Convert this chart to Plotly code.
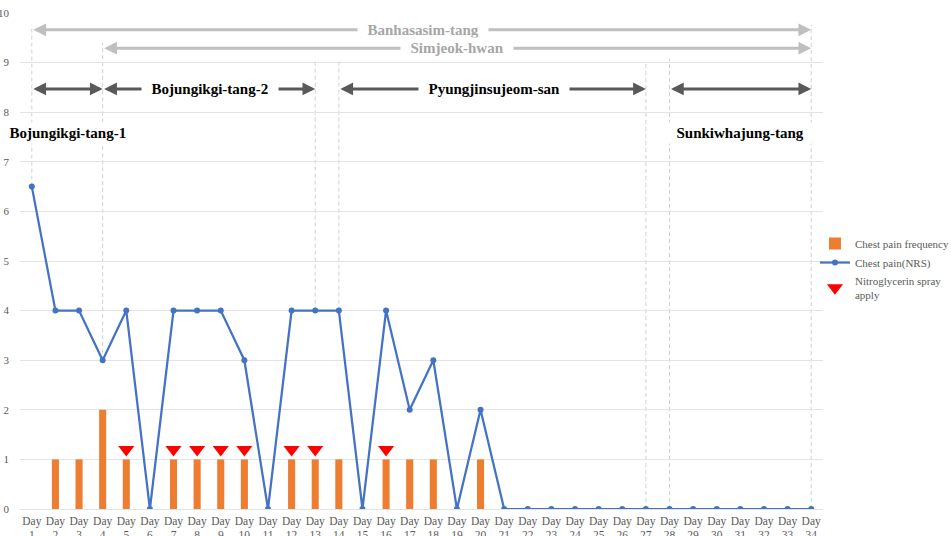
import plotly.graph_objects as go

# ---------------- data ----------------
days = [1, 2, 3, 4, 5, 6, 7, 8, 9, 10, 11, 12, 13, 14, 15, 16, 17,
        18, 19, 20, 21, 22, 23, 24, 25, 26, 27, 28, 29, 30, 31, 32, 33, 34]
day_labels = ["Day 1", "Day 2", "Day 3", "Day 4", "Day 5", "Day 6", "Day 7", "Day 8",
              "Day 9", "Day 10", "Day 11", "Day 12", "Day 13", "Day 14", "Day 15",
              "Day 16", "Day 17", "Day 18", "Day 19", "Day 20", "Day 21", "Day 22",
              "Day 23", "Day 24", "Day 25", "Day 26", "Day 27", "Day 28", "Day 29",
              "Day 30", "Day 31", "Day 32", "Day 33", "Day 34"]
chest_pain_nrs = [6.5, 4, 4, 3, 4, 0, 4, 4, 4, 3, 0, 4, 4, 4, 0, 4, 2, 3, 0, 2,
                  0, 0, 0, 0, 0, 0, 0, 0, 0, 0, 0, 0, 0, 0]
chest_pain_freq = [0, 1, 1, 2, 1, 0, 1, 1, 1, 1, 0, 1, 1, 1, 0, 1, 1, 1, 0, 1,
                   0, 0, 0, 0, 0, 0, 0, 0, 0, 0, 0, 0, 0, 0]
nitro_days = [5, 7, 8, 9, 10, 12, 13, 16]
nitro_marker_y = [1.2, 1.2, 1.2, 1.2, 1.2, 1.2, 1.2, 1.2]

# treatment periods: name, start day, end day, arrow level, label x, label y, style
treat_names = ["Banhasasim-tang", "Simjeok-hwan", "Bojungikgi-tang-1",
               "Bojungikgi-tang-2", "Pyungjinsujeom-san", "Sunkiwhajung-tang"]
treat_start = [1, 4, 1, 4, 14, 28]
treat_end = [34, 34, 4, 13, 27, 34]
treat_level = [9.66, 9.29, 8.47, 8.47, 8.47, 8.47]
label_x = [17.55, 19.0, 2.53, 8.53, 20.55, 31.0]
label_y = [9.66, 9.29, 7.59, 8.47, 8.47, 7.59]
treat_light = [True, True, False, False, False, False]

# dashed guide lines
guide_days = [1, 4, 13, 14, 27, 28, 34]
guide_top = [9.76, 9.4, 9.05, 9.03, 9.03, 9.07, 9.76]

# ---------------- figure ----------------
FONT = "Liberation Serif, Times New Roman, serif"
GREY_TXT = "#595959"

fig = go.Figure()

fig.add_trace(go.Bar(
    x=days, y=chest_pain_freq, name="Chest pain frequency",
    marker=dict(color="#ED7D31", line=dict(width=0)),
))
fig.add_trace(go.Scatter(
    x=days, y=chest_pain_nrs, name="Chest pain(NRS)", mode="lines+markers",
    line=dict(color="#4472C4", width=2.25),
    marker=dict(color="#4472C4", size=6),
))
fig.add_trace(go.Scatter(
    x=nitro_days, y=nitro_marker_y, name="Nitroglycerin spray<br>apply",
    mode="markers",
    marker=dict(symbol="triangle-down", color="#FF0000", size=14, line=dict(width=0)),
))

shapes = []
for d, top in zip(guide_days, guide_top):
    bottom = chest_pain_nrs[days.index(d)]
    shapes.append(dict(type="line", xref="x", yref="y", x0=d, x1=d, y0=bottom, y1=top,
                       line=dict(color="#D0D0D0", width=1, dash="4px,3px"), layer="below"))

annotations = []
# arrows first
for s, e, lvl, light in zip(treat_start, treat_end, treat_level, treat_light):
    annotations.append(dict(
        x=e, y=lvl, ax=s, ay=lvl, xref="x", yref="y", axref="x", ayref="y",
        text="", showarrow=True, arrowhead=2, arrowside="end+start",
        arrowsize=0.85, arrowwidth=3, standoff=0, startstandoff=0,
        arrowcolor="#BFBFBF" if light else "#595959",
    ))
# labels on top (white box interrupts arrows / guides)
pad = "\u00a0\u00a0"
for name, lx, ly, light in zip(treat_names, label_x, label_y, treat_light):
    annotations.append(dict(
        x=lx, y=ly, xref="x", yref="y", text=pad + "<b>" + name + "</b>" + pad,
        showarrow=False, bgcolor="white", borderpad=2,
        font=dict(family=FONT, size=15, color="#A6A6A6" if light else "#000000"),
    ))

fig.update_layout(
    width=951, height=536,
    margin=dict(l=20, r=128, t=13, b=27, autoexpand=False),
    paper_bgcolor="white", plot_bgcolor="white",
    bargap=0.7,
    shapes=shapes, annotations=annotations,
    showlegend=True,
    legend=dict(x=0.99, y=0.5645, xanchor="left", yanchor="top",
                font=dict(family=FONT, size=11, color=GREY_TXT),
                bgcolor="rgba(0,0,0,0)", itemwidth=30, tracegroupgap=2),
    font=dict(family=FONT, color=GREY_TXT),
)
fig.update_xaxes(
    range=[0.5, 34.5], tickmode="array", tickvals=days,
    ticktext=[t.replace(" ", "<br>") for t in day_labels],
    tickfont=dict(family=FONT, size=11.5, color=GREY_TXT),
    showgrid=False, zeroline=False, showline=False, ticks="", automargin=False,
    ticklabelstandoff=3,
)
fig.update_yaxes(
    range=[0, 10], dtick=1, tick0=0,
    tickfont=dict(family=FONT, size=11, color=GREY_TXT),
    showgrid=True, gridcolor="#E3E3E3", gridwidth=1,
    zeroline=True, zerolinecolor="#E3E3E3", zerolinewidth=1,
    showline=False, ticks="", ticklabelstandoff=10, automargin=False,
)

fig.write_html(
    "out.html",
    config={"displayModeBar": False},
    post_script="document.body.style.margin='0';document.body.style.overflow='hidden';",
)
